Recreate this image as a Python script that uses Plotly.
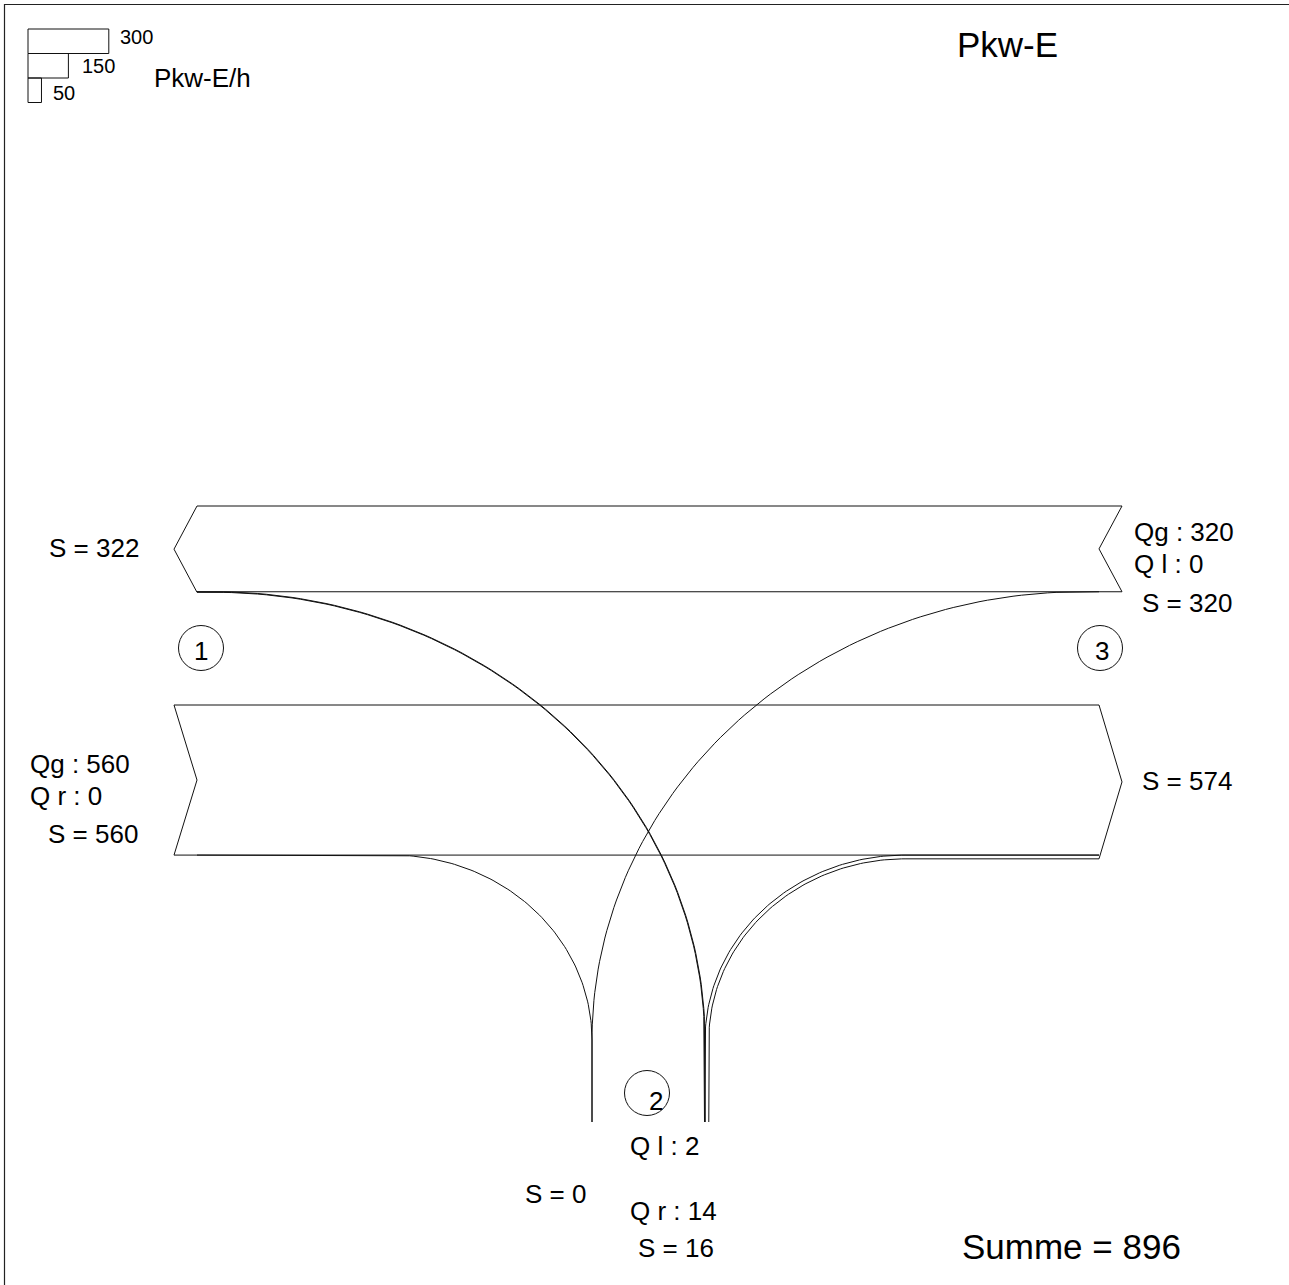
import numpy as np
import plotly.graph_objects as go

# ---------------- data ----------------
arm_labels = ["1", "2", "3"]
legend_values = [300, 150, 50]
unit_label = "Pkw-E/h"
title_label = "Pkw-E"

# arm 1 (west): entering through / right, leaving sum
arm1_Qg, arm1_Qr, arm1_S_in, arm1_S_out = 560, 0, 560, 322
# arm 3 (east): entering through / left, leaving sum
arm3_Qg, arm3_Ql, arm3_S_in, arm3_S_out = 320, 0, 320, 574
# arm 2 (south): entering left / right, leaving sum
arm2_Ql, arm2_Qr, arm2_S_in, arm2_S_out = 2, 14, 16, 0
total_sum = 896

# ---------------- layout constants (page pixels) ----------------
W, H = 1289, 1285
K = 0.268            # pixel per Pkw-E/h
FONT = "Liberation Sans, Arial, sans-serif"
LC = "#111111"

XL_IN, XL_OUT = 174, 197     # left ends
XR_IN, XR_OUT = 1122, 1099   # right ends
Y_TOP_BAND = 506             # top of westbound band
Y_BOT_BAND = 705             # top of eastbound band
X_ARM2_OUT = 592             # southbound (leaving) lane at arm 2
X_ARM2_IN = 704.5            # northbound (entering) lane at arm 2
Y_TURN = 1040                # where turns become vertical
Y_ARM2_END = 1122
RT_R = 200                   # right turn radius
LT_R = 490                   # left turn radius

fig = go.Figure()


def add_line(xs, ys, color=LC, width=1.0):
    fig.add_trace(go.Scatter(x=list(xs), y=list(ys), mode="lines",
                             line=dict(color=color, width=width),
                             hoverinfo="skip", showlegend=False,
                             cliponaxis=False))


def quarter(cx, cy, rx, ry, a0, a1, n=90):
    t = np.linspace(np.radians(a0), np.radians(a1), n)
    return cx + rx * np.cos(t), cy - ry * np.sin(t)


# ---- westbound band (from arm 3 to arm 1) ----
y0 = Y_TOP_BAND
yb_r = y0 + K * arm3_Qg
yb_l = y0 + K * arm1_S_out
add_line([XL_OUT, XR_IN, XR_OUT, XR_IN, XL_OUT],
         [y0, y0, (y0 + yb_r) / 2, yb_r, yb_r])
add_line([XL_OUT, XL_IN, XL_OUT], [yb_l, (y0 + yb_l) / 2, y0])

# ---- eastbound band (from arm 1 to arm 3) ----
y1 = Y_BOT_BAND
eb_l = y1 + K * arm1_Qg
eb_r = y1 + K * arm3_S_out
add_line([XL_IN, XR_OUT, XR_IN, XR_OUT],
         [y1, y1, (y1 + eb_r) / 2, eb_r])
add_line([XR_OUT, XL_IN, XL_OUT, XL_IN],
         [eb_l, eb_l, (y1 + eb_l) / 2, y1])

# ---- right turn arm 1 -> arm 2 (width K*arm1_Qr) ----
cx = X_ARM2_OUT - RT_R
for off in sorted({0.0, K * arm1_Qr}):
    xs, ys = quarter(cx, Y_TURN, RT_R - off, Y_TURN - eb_l - off, 90, 0)
    add_line([XL_OUT] + list(xs) + [X_ARM2_OUT - off, X_ARM2_OUT - off],
             [eb_l] + list(ys) + [Y_TURN, Y_ARM2_END])

# ---- left turn arm 3 -> arm 2 (width K*arm3_Ql) ----
cx = X_ARM2_OUT + LT_R
for off in sorted({0.0, K * arm3_Ql}):
    xs, ys = quarter(cx, Y_TURN, LT_R + off, Y_TURN - yb_r - off, 90, 180)
    add_line([XR_OUT] + list(xs) + [X_ARM2_OUT, X_ARM2_OUT],
             [yb_r] + list(ys) + [Y_TURN, Y_ARM2_END])

# ---- left turn arm 2 -> arm 1 (width K*arm2_Ql) ----
w_l2 = K * arm2_Ql
cx = X_ARM2_IN - LT_R
for off in (0.0, w_l2):
    rx = LT_R + w_l2 - off
    ry = Y_TURN - (yb_r + off)
    xs, ys = quarter(cx, Y_TURN, rx, ry, 0, 90)
    xe = cx + rx
    add_line([xe, xe] + list(xs) + [XL_OUT],
             [Y_ARM2_END, Y_TURN] + list(ys) + [yb_r + off])

# ---- right turn arm 2 -> arm 3 (width K*arm2_Qr) ----
w_r2 = K * arm2_Qr
x_in0 = X_ARM2_IN + w_l2
cx = x_in0 + RT_R
for off in (0.0, w_r2):
    rx = RT_R - off
    ry = Y_TURN - (eb_l + off)
    xs, ys = quarter(cx, Y_TURN, rx, ry, 180, 90)
    xe = cx - rx
    add_line([xe, xe] + list(xs) + [XR_OUT],
             [Y_ARM2_END, Y_TURN] + list(ys) + [eb_l + off])

# ---- frame ----
add_line([4.5, 4.5, W + 5], [H + 5, 4.5, 4.5], color="#222222", width=1.2)

# ---- legend boxes ----
leg_x0, leg_y0, leg_h = 28, 29, 24.5
for i, v in enumerate(legend_values):
    fig.add_shape(type="rect", x0=leg_x0, x1=leg_x0 + K * 1.005 * v,
                  y0=leg_y0 + i * leg_h, y1=leg_y0 + (i + 1) * leg_h,
                  line=dict(color=LC, width=1), fillcolor="rgba(0,0,0,0)")
leg_text_pos = [(118, 37), (80, 66), (51, 93)]
for v, (tx, ty) in zip(legend_values, leg_text_pos):
    fig.add_annotation(x=tx, y=ty, text=str(v), showarrow=False,
                       xanchor="left", yanchor="middle",
                       font=dict(family=FONT, size=20, color="black"))


def label(x, y, text, size=26):
    fig.add_annotation(x=x, y=y, text=text, showarrow=False,
                       xanchor="left", yanchor="middle",
                       font=dict(family=FONT, size=size, color="black"))


label(152, 78, unit_label, 26)
label(955, 44, title_label, 35)

# arm 1 labels
label(47, 548, f"S = {arm1_S_out}")
label(28, 764, f"Qg : {arm1_Qg}")
label(28, 796, f"Q r : {arm1_Qr}")
label(46, 834, f"S = {arm1_S_in}")
# arm 3 labels
label(1132, 532, f"Qg : {arm3_Qg}")
label(1132, 564, f"Q l : {arm3_Ql}")
label(1140, 603, f"S = {arm3_S_in}")
label(1140, 781, f"S = {arm3_S_out}")
# arm 2 labels
label(628, 1146, f"Q l : {arm2_Ql}")
label(523, 1194, f"S = {arm2_S_out}")
label(628, 1211, f"Q r : {arm2_Qr}")
label(636, 1248, f"S = {arm2_S_in}")
# total
label(960, 1246, f"Summe = {total_sum}", 35)

# ---- arm circles ----
circ = {"1": (201, 648, 201, 651), "2": (647, 1093, 656, 1101), "3": (1100, 648, 1102, 651)}
for a in arm_labels:
    cx_, cy_, tx, ty = circ[a]
    r = 22.5
    fig.add_shape(type="circle", x0=cx_ - r, x1=cx_ + r, y0=cy_ - r, y1=cy_ + r,
                  line=dict(color=LC, width=1))
    fig.add_annotation(x=tx, y=ty, text=a, showarrow=False,
                       xanchor="center", yanchor="middle",
                       font=dict(family=FONT, size=26, color="black"))

fig.update_layout(
    width=W, height=H, margin=dict(l=0, r=0, t=0, b=0),
    paper_bgcolor="white", plot_bgcolor="white",
    xaxis=dict(range=[0, W], visible=False, fixedrange=True),
    yaxis=dict(range=[H, 0], visible=False, fixedrange=True),
    showlegend=False,
)
fig.write_html(
    "out.html",
    config={"displayModeBar": False},
    post_script="document.body.style.margin='0';document.body.style.overflow='hidden';",
)
